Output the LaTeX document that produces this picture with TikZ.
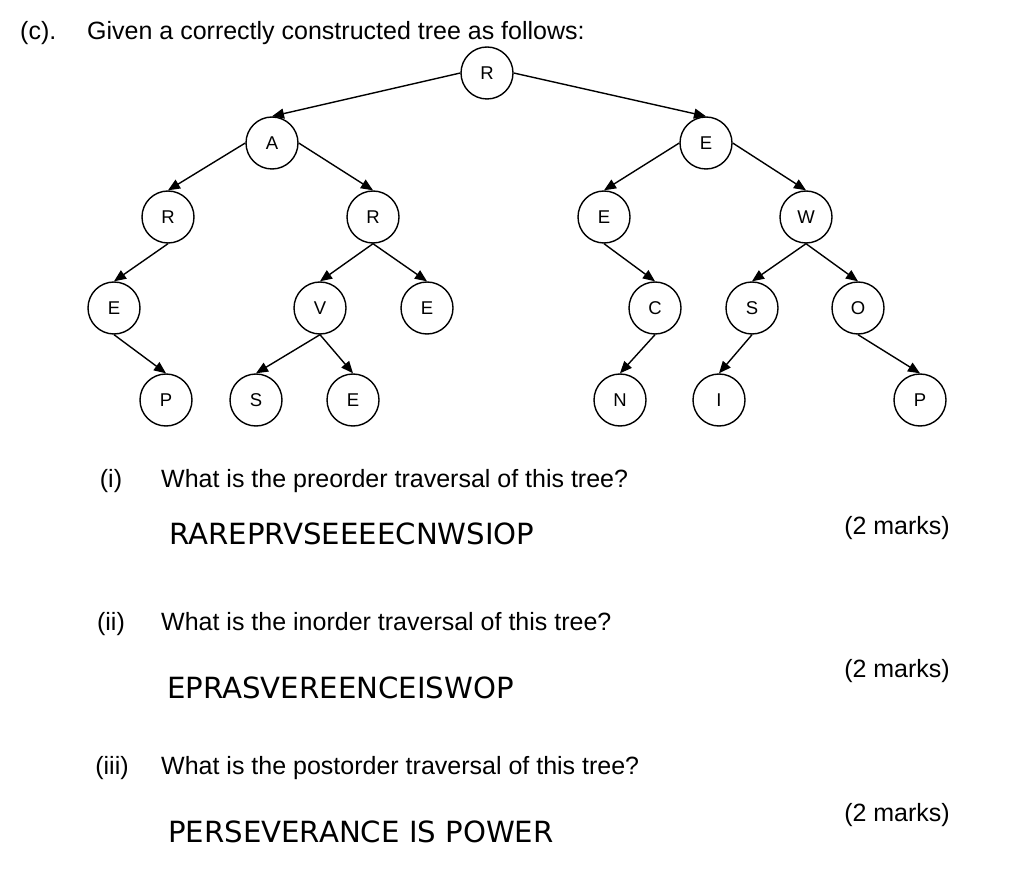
\documentclass[tikz,border=0pt]{standalone}
\usepackage{fontspec}
\setmainfont{Liberation Sans}
\newfontfamily\ansfont{DejaVu Sans}
\usetikzlibrary{arrows.meta}
\begin{document}
\begin{tikzpicture}[x=1pt,y=-1pt,
  tn/.style={circle,draw,line width=1.4pt,minimum size=52pt,inner sep=0pt,font=\fontsize{18.5}{20}\selectfont},
  ed/.style={line width=1.4pt,-{Triangle[length=12pt,width=10pt]}},
  qtext/.style={anchor=base west,inner sep=0pt,font=\fontsize{25}{28}\selectfont},
  qnum/.style={anchor=base,inner sep=0pt,font=\fontsize{25}{28}\selectfont},
  marks/.style={anchor=base east,inner sep=0pt,font=\fontsize{25}{28}\selectfont},
  ans/.style={anchor=base west,inner sep=0pt,font=\ansfont\fontsize{29.2}{32}\selectfont}]
\useasboundingbox (0,0) rectangle (1020,877);
% tree nodes
\node[tn] (r)  at (487,73) {R};
\node[tn] (a)  at (272,143) {A};
\node[tn] (e1) at (706,143) {E};
\node[tn] (r1) at (168,217) {R};
\node[tn] (r2) at (373,217) {R};
\node[tn] (e2) at (604,217) {E};
\node[tn] (w)  at (806,217) {W};
\node[tn] (e3) at (114,308) {E};
\node[tn] (v)  at (320,308) {V};
\node[tn] (e4) at (427,308) {E};
\node[tn] (c)  at (655,308) {C};
\node[tn] (s1) at (752,308) {S};
\node[tn] (o)  at (858,308) {O};
\node[tn] (p1) at (166,400) {P};
\node[tn] (s2) at (256,400) {S};
\node[tn] (e5) at (353,400) {E};
\node[tn] (n)  at (620,400) {N};
\node[tn] (i)  at (719,400) {I};
\node[tn] (p2) at (920,400) {P};
% edges
\draw[ed] (r.west) -- (a.north);
\draw[ed] (r.east) -- (e1.north);
\draw[ed] (a.west) -- (r1.north);
\draw[ed] (a.east) -- (r2.north);
\draw[ed] (e1.west) -- (e2.north);
\draw[ed] (e1.east) -- (w.north);
\draw[ed] (r1.south) -- (e3.north);
\draw[ed] (r2.south) -- (v.north);
\draw[ed] (r2.south) -- (e4.north);
\draw[ed] (e2.south) -- (c.north);
\draw[ed] (w.south) -- (s1.north);
\draw[ed] (w.south) -- (o.north);
\draw[ed] (e3.south) -- (p1.north);
\draw[ed] (v.south) -- (s2.north);
\draw[ed] (v.south) -- (e5.north);
\draw[ed] (c.south) -- (n.north);
\draw[ed] (s1.south) -- (i.north);
\draw[ed] (o.south) -- (p2.north);
% texts
\node[qtext] (hc) at (20,40) {(c).};
\node[qtext] (hg) at (87,40) {Given a correctly constructed tree as follows:};
\node[qnum] (n1) at (111,487) {(i)};
\node[qtext] (q1) at (161,487) {What is the preorder traversal of this tree?};
\node[ans] (a1) at (169,544) {RAREPRVSEEEECNWSIOP};
\node[marks] (m1) at (950,534) {(2 marks)};
\node[qnum] (n2) at (111,630) {(ii)};
\node[qtext] (q2) at (161,630) {What is the inorder traversal of this tree?};
\node[ans] (a2) at (167,698) {EPRASVEREENCEISWOP};
\node[marks] (m2) at (950,677) {(2 marks)};
\node[qnum] (n3) at (112,774) {(iii)};
\node[qtext] (q3) at (161,774) {What is the postorder traversal of this tree?};
\node[ans] (a3) at (168,842) {PERSEVERANCE IS POWER};
\node[marks] (m3) at (950,821) {(2 marks)};
\end{tikzpicture}
\end{document}
